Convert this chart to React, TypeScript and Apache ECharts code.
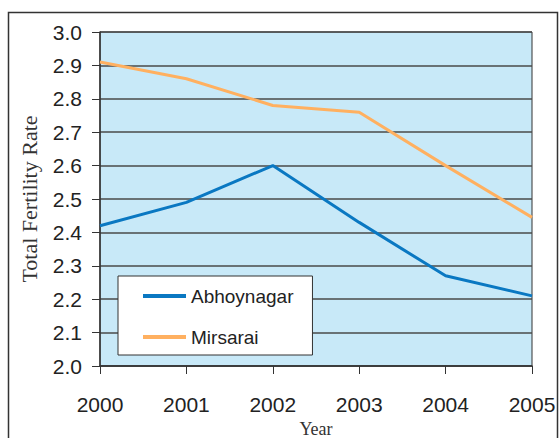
import React, { useEffect, useRef } from "react";
import * as echarts from "echarts";

const years = ["2000", "2001", "2002", "2003", "2004", "2005"];
const abhoynagar = [2.42, 2.49, 2.6, 2.43, 2.27, 2.21];
const mirsarai = [2.91, 2.86, 2.78, 2.76, 2.6, 2.445];
const seriesNames = ["Abhoynagar", "Mirsarai"];

export default function App() {
  const ref = useRef<HTMLDivElement>(null);
  useEffect(() => {
    if (!ref.current) return;
    const chart = echarts.init(ref.current, undefined, { renderer: "svg" });
    const sans = "Liberation Sans, Arial, sans-serif";
    const serif = "Liberation Serif, Times New Roman, serif";
    chart.setOption({
      animation: false,
      backgroundColor: "#ffffff",
      grid: {
        left: 100,
        top: 32,
        width: 432,
        height: 334,
        outerBoundsMode: "none",
        containLabel: false,
        show: true,
        backgroundColor: "#c8e9f8",
        borderColor: "#333",
        borderWidth: 1,
      },
      graphic: [
        {
          type: "rect",
          shape: { x: 8.5, y: 12.5, width: 549, height: 440 },
          style: { fill: "none", stroke: "#333", lineWidth: 1.5 },
          silent: true,
          z: -1,
        },
      ],
      legend: {
        orient: "vertical",
        left: 118,
        top: 276,
        padding: [10, 19, 8, 25],
        itemGap: 21,
        itemWidth: 43,
        itemHeight: 4,
        itemTextGap: 5,
        icon: "rect",
        backgroundColor: "#fff",
        borderColor: "#333",
        borderWidth: 1,
        data: seriesNames,
        textStyle: { fontFamily: sans, fontSize: 19, color: "#222", lineHeight: 20, width: 102 },
      },
      xAxis: {
        type: "category",
        data: years,
        boundaryGap: false,
        name: "Year",
        nameLocation: "middle",
        nameGap: 47,
        nameTextStyle: { fontFamily: serif, fontSize: 18, color: "#333" },
        axisLine: { show: true, lineStyle: { color: "#333", width: 1.5 } },
        axisTick: { show: true, length: 8, lineStyle: { color: "#333" } },
        axisLabel: { margin: 28, fontFamily: sans, fontSize: 21, color: "#222" },
        splitLine: { show: false },
      },
      yAxis: {
        type: "value",
        min: 2.0,
        max: 3.0,
        interval: 0.1,
        name: "Total Fertility Rate",
        nameLocation: "middle",
        nameGap: 60,
        nameRotate: 90,
        nameTextStyle: { fontFamily: serif, fontSize: 22, color: "#333" },
        axisLine: { show: true, lineStyle: { color: "#333", width: 1.5 } },
        axisTick: { show: true, length: 8, lineStyle: { color: "#333" } },
        axisLabel: {
          margin: 18,
          fontFamily: sans,
          fontSize: 21,
          color: "#222",
          formatter: (v: number) => v.toFixed(1),
        },
        splitLine: { show: true, lineStyle: { color: "#4a4a4a", width: 1.5 } },
      },
      series: [
        {
          name: seriesNames[0],
          type: "line",
          data: abhoynagar,
          symbol: "none",
          lineStyle: { color: "#0a78c2", width: 3 },
          itemStyle: { color: "#0a78c2" },
          z: 3,
        },
        {
          name: seriesNames[1],
          type: "line",
          data: mirsarai,
          symbol: "none",
          lineStyle: { color: "#ffb060", width: 3 },
          itemStyle: { color: "#ffb060" },
          z: 3,
        },
      ],
    });
    return () => chart.dispose();
  }, []);
  return (
    <div
      ref={ref}
      style={{ position: "fixed", left: 0, top: 0, width: 559, height: 438 }}
    />
  );
}
